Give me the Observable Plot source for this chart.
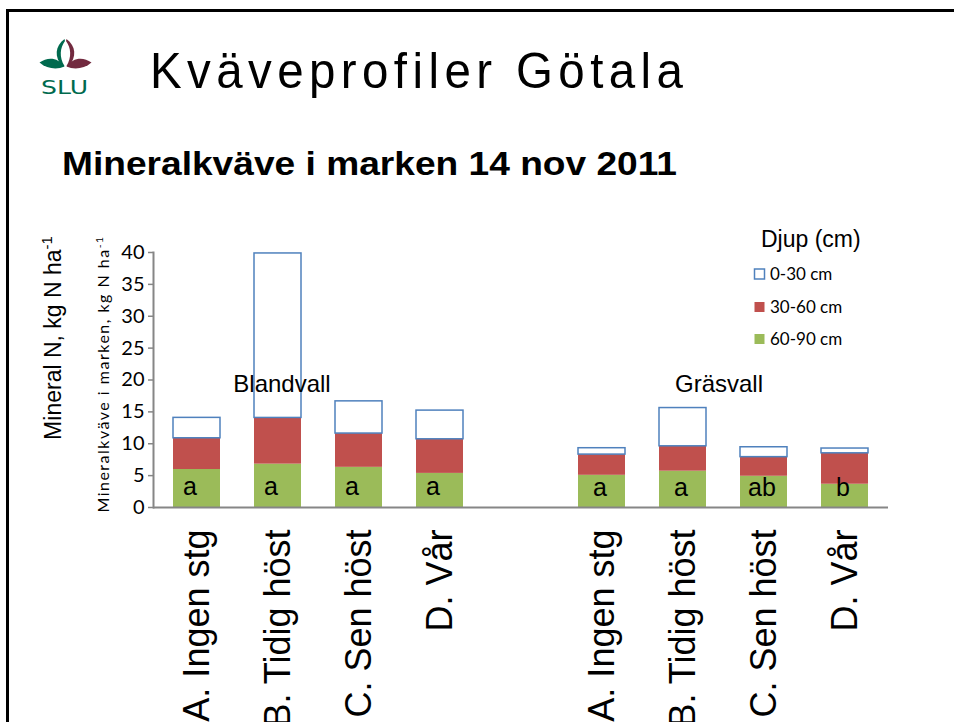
<!DOCTYPE html>
<html>
<head>
<meta charset="utf-8">
<script src="https://cdn.jsdelivr.net/npm/d3@7"></script>
<script src="https://cdn.jsdelivr.net/npm/@observablehq/plot@0.6"></script>
<style>
  html, body { margin: 0; padding: 0; background: #fff; overflow: hidden; width: 954px; height: 722px; }
  #wrap { position: relative; width: 954px; height: 722px; overflow: hidden; background: #fff; }
  #wrap > svg { position: absolute; left: 0; top: 0; display: block; }
</style>
</head>
<body>
<div id="wrap"></div>
<script>
// ---- data ----
const title = "Kväveprofiler Götala";
const subtitle = "Mineralkväve i marken 14 nov 2011";
const groups = ["Blandvall", "Gräsvall"];
const treatments = ["A. Ingen stg", "B. Tidig höst", "C. Sen höst", "D. Vår"];
const depths = ["0-30 cm", "30-60 cm", "60-90 cm"];
const legendTitle = "Djup (cm)";
// values per bar: Blandvall A..D, then Gräsvall A..D (kg N/ha)
const n60_90 = [5.96, 6.8, 6.3, 5.35, 5.05, 5.7, 4.9, 3.65];
const n30_60 = [4.9, 7.25, 5.3, 5.35, 3.25, 3.9, 3.0, 4.85];
const n0_30  = [3.2, 25.8, 5.05, 4.5, 1.0, 6.0, 1.55, 0.75];
const letters = ["a", "a", "a", "a", "a", "a", "ab", "b"];
const yTicks = [0, 5, 10, 15, 20, 25, 30, 35, 40];
const yLabelOuter = "Mineral N, kg N ha";
const yLabelInner = "Mineralkväve i marken, kg N ha";

// ---- styles ----
const colors = {"0-30 cm": "#ffffff", "30-60 cm": "#c0504d", "60-90 cm": "#9bbb59"};
const blueEdge = "#4f81bd";
const axisGray = "#868686";

// ---- build table ----
const barKeys = groups.flatMap(g => treatments.map(t => g + "|" + t));
const domain = [...barKeys.slice(0, 4), "gap", ...barKeys.slice(4)];
const rows = [];
barKeys.forEach((key, i) => {
  let base = 0;
  [["60-90 cm", n60_90[i]], ["30-60 cm", n30_60[i]], ["0-30 cm", n0_30[i]]].forEach(([depth, v]) => {
    rows.push({key, depth, y1: base, y2: base + v});
    base += v;
  });
});
const letterRows = barKeys.map((key, i) => ({key, group: key.split("|")[0], letter: letters[i]}));

const chart = Plot.plot({
  width: 954, height: 722,
  marginLeft: 153, marginRight: 66, marginTop: 252, marginBottom: 215,
  x: {type: "band", domain, paddingInner: 0.42, paddingOuter: 0.21, axis: null},
  y: {domain: [0, 40], axis: null},
  style: {fontFamily: "'Liberation Sans', Arial, sans-serif", background: "transparent", color: "#000", overflow: "visible"},
  marks: [
    Plot.barY(rows.filter(d => d.depth !== "0-30 cm"), {x: "key", y1: "y1", y2: "y2", fill: d => colors[d.depth]}),
    Plot.barY(rows.filter(d => d.depth === "0-30 cm"), {x: "key", y1: "y1", y2: "y2", fill: "#fff", stroke: blueEdge, strokeWidth: 1.5}),
    Plot.frame({anchor: "left", stroke: axisGray, strokeWidth: 2}),
    Plot.ruleY([0], {stroke: axisGray, strokeWidth: 2}),
    Plot.axisY({ticks: yTicks, tickSize: 5, stroke: axisGray, strokeWidth: 1.5, tickPadding: 4,
      fontSize: 20, fontFamily: "Lato, sans-serif", label: null}),
    Plot.axisX({tickSize: 0, tickRotate: -90, tickPadding: 22, fontSize: 36,
      tickFormat: k => k === "gap" ? "" : k.split("|")[1], label: null}),
    Plot.text(letterRows.filter(d => d.group === groups[0]), {x: "key", text: "letter", frameAnchor: "bottom", dy: -13, dx: -7, fontSize: 25}),
    Plot.text(letterRows.filter(d => d.group === groups[1]), {x: "key", text: "letter", frameAnchor: "bottom", dy: -12, dx: -2, fontSize: 25}),
    Plot.text([groups[0]], {x: () => barKeys[1], text: d => d, frameAnchor: "top", dy: 122, dx: 4, fontSize: 24}),
    Plot.text([groups[1]], {x: () => barKeys[5], text: d => d, frameAnchor: "top", dy: 122, dx: 36, fontSize: 24})
  ]
});
document.getElementById("wrap").appendChild(chart);

// ---- overlay: frame, logo, titles, axis titles, legend ----
const ov = d3.select("#wrap").append("svg")
  .attr("width", 954).attr("height", 722)
  .style("pointer-events", "none");

// slide frame
ov.append("line").attr("x1", 6).attr("x2", 954).attr("y1", 10.5).attr("y2", 10.5).attr("stroke", "#000").attr("stroke-width", 3);
ov.append("line").attr("x1", 7.5).attr("x2", 7.5).attr("y1", 9).attr("y2", 722).attr("stroke", "#000").attr("stroke-width", 3);

// SLU logo
const logo = ov.append("g");
logo.append("path").attr("fill", "#006a4e")
  .attr("d", "M64.5,39 C55,46 54,57 62.5,66.5 L64.5,66 C59,57 60,48 65,41 Z");
logo.append("path").attr("fill", "#006a4e")
  .attr("d", "M64.5,66.5 C58,57.5 48,56.5 39.5,62.5 C47,69 57,70 64.5,66.5 Z");
logo.append("path").attr("fill", "#722a3f")
  .attr("d", "M66.5,39 C76,46 77,57 68.5,66.5 L66.5,66 C72,57 71,48 66,41 Z");
logo.append("path").attr("fill", "#722a3f")
  .attr("d", "M66.5,66.5 C73,57.5 83,56.5 91.5,62.5 C84,69 74,70 66.5,66.5 Z");
logo.append("text").attr("x", 64.5).attr("y", 93.5).attr("text-anchor", "middle")
  .attr("font-family", "'DejaVu Sans', sans-serif")
  .attr("font-size", 20).attr("fill", "#006a4e").attr("textLength", 47).attr("lengthAdjust", "spacingAndGlyphs").text("SLU");

// title & subtitle
ov.append("text").attr("transform", "translate(150,88) scale(0.95,1)")
  .attr("font-family", "'Liberation Sans Narrow', 'Liberation Sans', Arial, sans-serif")
  .attr("font-size", 50).attr("textLength", 533 / 0.95).attr("lengthAdjust", "spacing").text(title);
ov.append("text").attr("x", 62).attr("y", 175)
  .attr("font-family", "'Liberation Sans', Arial, sans-serif").attr("font-weight", "bold")
  .attr("font-size", 34).attr("textLength", 615).attr("lengthAdjust", "spacingAndGlyphs").text(subtitle);

// y axis titles
function vlabel(cx, cy, txt, family, size) {
  const t = ov.append("text")
    .attr("transform", `translate(${cx},${cy}) rotate(-90)`)
    .attr("text-anchor", "middle").attr("font-family", family).attr("font-size", size);
  t.append("tspan").text(txt);
  t.append("tspan").attr("dy", -size * 0.4).attr("font-size", size * 0.65).text("-1");
  return t;
}
vlabel(61, 338, yLabelOuter, "'Liberation Sans', Arial, sans-serif", 23);
vlabel(109, 374, yLabelInner, "Lato, sans-serif", 16).attr("letter-spacing", 1.5);

// legend
ov.append("text").attr("x", 761).attr("y", 247)
  .attr("font-family", "'Liberation Sans', Arial, sans-serif").attr("font-size", 23).text(legendTitle);
const legendY = [274, 307, 339];
depths.forEach((d, i) => {
  ov.append("rect").attr("x", 754.5).attr("y", legendY[i] - 5).attr("width", 10).attr("height", 10)
    .attr("fill", colors[d]).attr("stroke", d === "0-30 cm" ? blueEdge : "none").attr("stroke-width", 1.5);
  ov.append("text").attr("x", 770).attr("y", legendY[i] + 6)
    .attr("font-family", "Lato, sans-serif").attr("font-size", 17).text(d);
});
</script>
</body>
</html>
